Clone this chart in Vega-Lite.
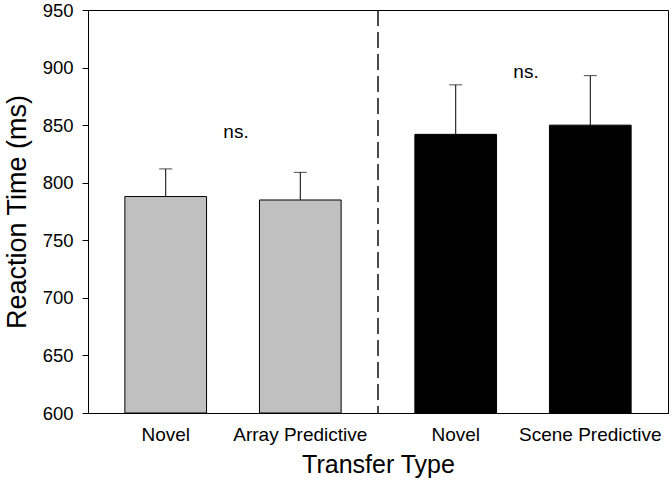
{
  "$schema": "https://vega.github.io/schema/vega-lite/v6.json",
  "width": 580,
  "height": 403,
  "autosize": {"type": "none"},
  "padding": {"left": 88, "top": 10, "right": 4, "bottom": 78},
  "background": "white",
  "datasets": {
    "bars": [
      {"group": "Array", "condition": "Novel", "label": "Novel", "rt": 788, "upper": 812},
      {"group": "Array", "condition": "Predictive", "label": "Array Predictive", "rt": 785, "upper": 809},
      {"group": "Scene", "condition": "Novel", "label": "Novel", "rt": 842, "upper": 885},
      {"group": "Scene", "condition": "Predictive", "label": "Scene Predictive", "rt": 850, "upper": 893}
    ],
    "notes": [
      {"group": "Array", "rt": 839, "text": "ns."},
      {"group": "Scene", "rt": 891, "text": "ns."}
    ]
  },
  "data": {"name": "bars"},
  "encoding": {
    "x": {
      "field": "group",
      "type": "nominal",
      "sort": ["Array", "Scene"],
      "scale": {"paddingInner": 0, "paddingOuter": 0},
      "axis": {"labels": false, "ticks": false, "title": "Transfer Type", "titleFontSize": 25, "titleFontWeight": "normal", "titleBaseline": "alphabetic", "titlePadding": 59}
    }
  },
  "layer": [
    {
      "mark": {"type": "bar", "stroke": "black", "strokeWidth": 1},
      "encoding": {
        "xOffset": {"field": "condition", "type": "nominal", "sort": ["Novel", "Predictive"], "scale": {"paddingInner": 0.393, "paddingOuter": 0.274}},
        "y": {
          "field": "rt",
          "type": "quantitative",
          "scale": {"domain": [600, 950], "zero": false, "nice": false},
          "axis": {"values": [600, 650, 700, 750, 800, 850, 900, 950], "title": "Reaction Time (ms)", "titleFontSize": 27, "titleFontWeight": "normal", "labelFontSize": 18.5, "tickSize": 6, "labelPadding": 9, "titlePadding": 11}
        },
        "y2": {"datum": 600},
        "color": {"field": "group", "type": "nominal", "scale": {"domain": ["Array", "Scene"], "range": ["#c0c0c0", "#000000"]}, "legend": null}
      }
    },
    {
      "mark": {"type": "rule", "color": "black", "strokeWidth": 1},
      "encoding": {
        "xOffset": {"field": "condition", "type": "nominal", "sort": ["Novel", "Predictive"]},
        "y": {"field": "rt", "type": "quantitative"},
        "y2": {"field": "upper"}
      }
    },
    {
      "mark": {"type": "tick", "color": "black", "thickness": 1, "size": 13},
      "encoding": {
        "xOffset": {"field": "condition", "type": "nominal", "sort": ["Novel", "Predictive"]},
        "y": {"field": "upper", "type": "quantitative"}
      }
    },
    {
      "mark": {"type": "text", "fontSize": 19, "font": "Liberation Sans", "color": "black", "baseline": "alphabetic", "dy": 28},
      "encoding": {
        "xOffset": {"field": "condition", "type": "nominal", "sort": ["Novel", "Predictive"]},
        "y": {"datum": 600},
        "text": {"field": "label"}
      }
    },
    {
      "data": {"name": "notes"},
      "mark": {"type": "text", "fontSize": 19, "font": "Liberation Sans", "color": "black", "baseline": "alphabetic", "dx": 3},
      "encoding": {
        "y": {"field": "rt", "type": "quantitative"},
        "text": {"field": "text"}
      }
    },
    {
      "data": {"values": [{"boundary": "Scene"}]},
      "mark": {"type": "rule", "color": "black", "strokeWidth": 1.4, "strokeDash": [16, 6]},
      "encoding": {
        "x": {"field": "boundary", "type": "nominal", "bandPosition": 0}
      }
    }
  ],
  "config": {
    "font": "Liberation Sans",
    "view": {"stroke": "black", "strokeWidth": 1},
    "axis": {"grid": false, "domainColor": "black", "tickColor": "black", "labelColor": "black", "titleColor": "black", "labelFont": "Liberation Sans", "titleFont": "Liberation Sans"}
  }
}
